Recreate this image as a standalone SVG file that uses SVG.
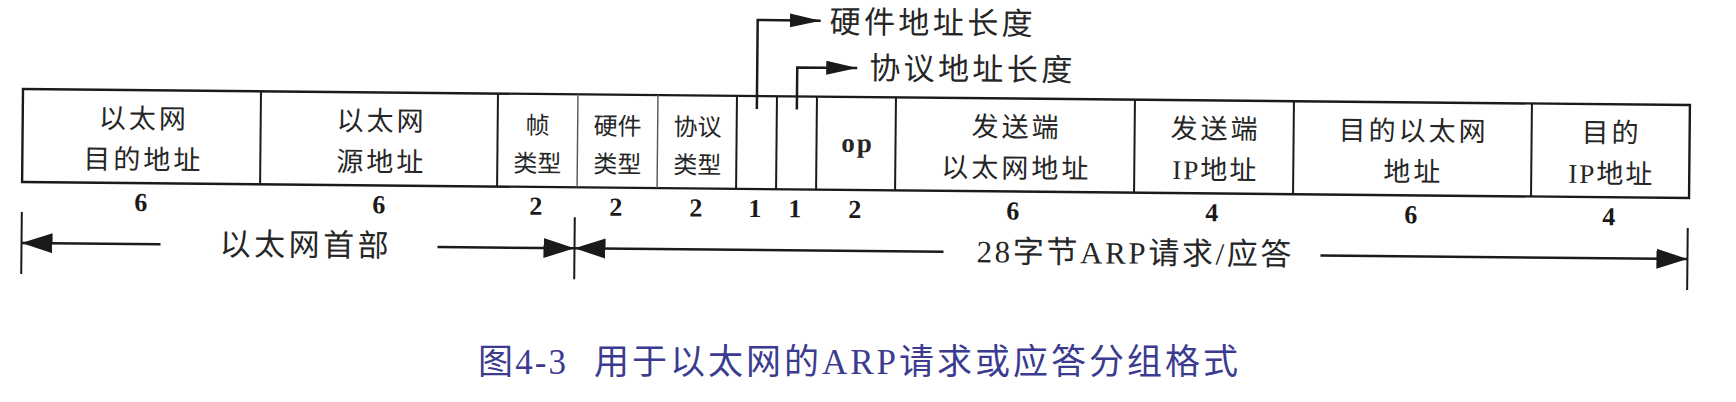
<svg xmlns="http://www.w3.org/2000/svg" width="1736" height="402" viewBox="0 0 1736 402">
<style>
.box{fill:none;stroke:#1a1a1a;stroke-width:2.4}
.div{stroke:#1a1a1a;stroke-width:2}
.divl{stroke:#555;stroke-width:1.4}
.t{font-family:"Noto Sans CJK SC",sans-serif;font-size:27px;fill:#262626;text-anchor:middle;letter-spacing:3px}
.ts{font-family:"Noto Sans CJK SC",sans-serif;font-size:24px;fill:#262626;text-anchor:middle}
.tm{font-family:"Liberation Serif","Noto Sans CJK SC",serif;font-size:27px;fill:#262626;text-anchor:middle;letter-spacing:2px}
.n{font-family:"Liberation Serif",serif;font-size:26px;font-weight:bold;fill:#1a1a1a;text-anchor:middle}
.lab{font-family:"Liberation Serif","Noto Sans CJK SC",serif;font-size:31px;fill:#262626}
.ln{stroke:#1a1a1a;stroke-width:2.5;fill:none}
.bar{stroke:#1a1a1a;stroke-width:2}
.cap{font-family:"Liberation Serif","Noto Sans CJK SC",serif;font-size:35px;fill:#3b3b8f}
</style>
<defs>
<marker id="ah" markerUnits="userSpaceOnUse" markerWidth="32" markerHeight="22" refX="31" refY="10" orient="auto">
<path d="M0,0 L31,10 L0,20 Z" fill="#1a1a1a"/>
</marker>
<marker id="ahs" markerUnits="userSpaceOnUse" markerWidth="32" markerHeight="16" refX="31" refY="7" orient="auto">
<path d="M0,0 L31,7 L0,14 Z" fill="#1a1a1a"/>
</marker>
</defs>
<g transform="rotate(0.55 23 89)">
<rect class="box" x="23" y="89" width="1667" height="93"/>
<g id="f-eth-dst"><line class="div" x1="261" y1="89" x2="261" y2="182"/><text class="t" x="144" y="127">以太网</text><text class="t" x="144" y="168">目的地址</text><text class="n" x="142" y="210">6</text></g>
<g id="f-eth-src"><line class="div" x1="498" y1="89" x2="498" y2="182"/><text class="t" x="382" y="127">以太网</text><text class="t" x="382" y="168">源地址</text><text class="n" x="380" y="210">6</text></g>
<g id="f-frame-type"><line class="divl" x1="578" y1="89" x2="578" y2="182"/><text class="ts" x="538" y="129">帧</text><text class="ts" x="538" y="167">类型</text><text class="n" x="537" y="210">2</text></g>
<g id="f-hw-type"><line class="divl" x1="658" y1="89" x2="658" y2="182"/><text class="ts" x="618" y="129">硬件</text><text class="ts" x="618" y="167">类型</text><text class="n" x="617" y="210">2</text></g>
<g id="f-proto-type"><line class="div" x1="737" y1="89" x2="737" y2="182"/><text class="ts" x="698" y="129">协议</text><text class="ts" x="698" y="167">类型</text><text class="n" x="697" y="210">2</text></g>
<g id="f-hw-len"><line class="div" x1="777" y1="89" x2="777" y2="182"/><text class="n" x="756" y="210">1</text></g>
<g id="f-proto-len"><line class="div" x1="817" y1="89" x2="817" y2="182"/><text class="n" x="796" y="210">1</text></g>
<g id="f-op"><line class="div" x1="896" y1="89" x2="896" y2="182"/><text class="tm" x="858" y="144" font-weight="bold">op</text><text class="n" x="856" y="210">2</text></g>
<g id="f-snd-eth"><line class="div" x1="1135" y1="89" x2="1135" y2="182"/><text class="t" x="1017" y="127">发送端</text><text class="t" x="1017" y="168">以太网地址</text><text class="n" x="1014" y="210">6</text></g>
<g id="f-snd-ip"><line class="div" x1="1294" y1="89" x2="1294" y2="182"/><text class="t" x="1216" y="127">发送端</text><text class="tm" x="1216" y="168">IP地址</text><text class="n" x="1213" y="210">4</text></g>
<g id="f-dst-eth"><line class="div" x1="1532" y1="89" x2="1532" y2="182"/><text class="t" x="1414" y="127">目的以太网</text><text class="t" x="1414" y="168">地址</text><text class="n" x="1412" y="210">6</text></g>
<g id="f-dst-ip"><text class="t" x="1612" y="127">目的</text><text class="tm" x="1612" y="168">IP地址</text><text class="n" x="1610" y="210">4</text></g>
<g id="lbl-hw-len"><text class="lab" x="829" y="25" textLength="203" lengthAdjust="spacing">硬件地址长度</text></g>
<g id="lbl-proto-len"><text class="lab" x="869" y="71" textLength="203" lengthAdjust="spacing">协议地址长度</text></g>
<g id="lbl-eth-hdr"><text class="lab" x="221" y="253" textLength="169" lengthAdjust="spacing">以太网首部</text></g>
<g id="lbl-arp"><text class="lab" x="978" y="253" textLength="315" lengthAdjust="spacing">28字节ARP请求/应答</text></g>
<g id="connectors">
<path class="ln" d="M757,102 V13 H820" marker-end="url(#ahs)"/>
<path class="ln" d="M797,102 V60 H857" marker-end="url(#ahs)"/>
<line class="bar" x1="23" y1="212" x2="23" y2="274"/>
<line class="bar" x1="576" y1="212" x2="576" y2="274"/>
<line class="bar" x1="1689" y1="212" x2="1689" y2="274"/>
<line class="ln" x1="162" y1="243" x2="23" y2="243" marker-end="url(#ah)"/>
<line class="ln" x1="439" y1="243" x2="576" y2="243" marker-end="url(#ah)"/>
<line class="ln" x1="945" y1="243" x2="576" y2="243" marker-end="url(#ah)"/>
<line class="ln" x1="1322" y1="243" x2="1689" y2="243" marker-end="url(#ah)"/>
</g>
</g>
<g id="caption">
<text class="cap" x="478" y="374" textLength="88" lengthAdjust="spacing">图4-3</text>
<text class="cap" x="594" y="374" textLength="644" lengthAdjust="spacing">用于以太网的ARP请求或应答分组格式</text>
</g>
</svg>
